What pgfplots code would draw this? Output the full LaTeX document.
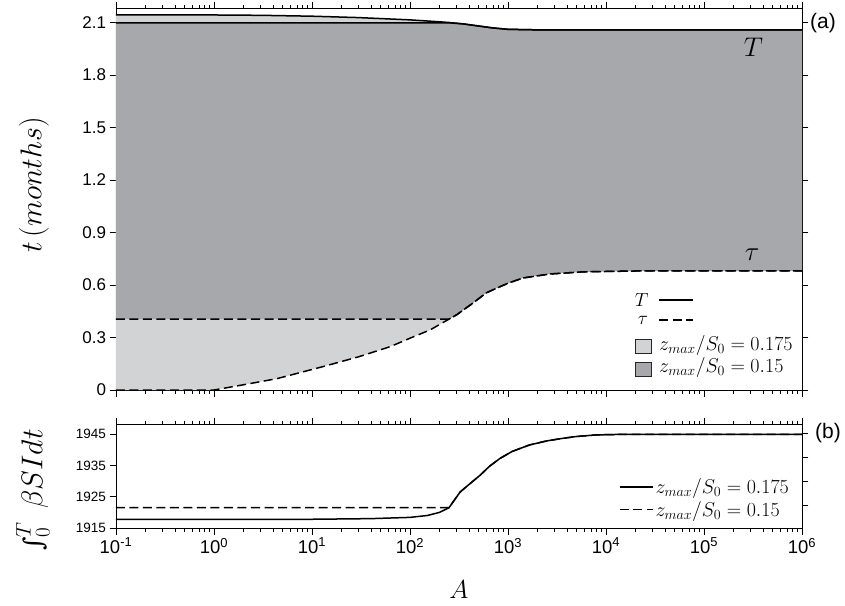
\RequirePackage{fix-cm}
\documentclass[border=0pt]{standalone}
\usepackage[no-math]{fontspec}
\setmainfont{Liberation Sans}
\newfontfamily\intfont{DejaVu Serif}
\usepackage{pgfplots}
\pgfplotsset{compat=1.18}
\usepackage{pgfplotstable}

\definecolor{fillA}{RGB}{210,211,213}
\definecolor{fillB}{RGB}{167,168,172}

\newcommand{\fa}{\fontsize{17}{20}\selectfont}
\newcommand{\fb}{\fontsize{13.5}{16}\selectfont}
\newcommand{\fx}{\fontsize{18.5}{21}\selectfont}
\newcommand{\dec}[1]{{\fx 10\textsuperscript{#1}}}

% ---------- panel (a): switching times ----------
\pgfplotstableread{
A t
0.1 2.144
1 2.143
3 2.141
10 2.136
30 2.128
100 2.115
200 2.104
250 2.100
350 2.092
500 2.080
700 2.069
1000 2.061
2000 2.058
1000000 2.058
}\TupA
\pgfplotstableread{
A t
0.1 2.098
250 2.098
350 2.092
500 2.080
700 2.069
1000 2.061
2000 2.058
1000000 2.058
}\TupB
\pgfplotstableread{
A t
0.1 0
1 0
2 0.03
4.4 0.065
13 0.134
30 0.19
63 0.248
100 0.296
160 0.343
250 0.405
300 0.43
440 0.497
600 0.555
773 0.583
1000 0.610
1420 0.640
2690 0.663
5820 0.675
20000 0.680
1000000 0.680
}\TauA
\pgfplotstableread{
A t
0.1 0.405
250 0.405
300 0.43
440 0.497
600 0.555
773 0.583
1000 0.610
1420 0.640
2690 0.663
5820 0.675
20000 0.680
1000000 0.680
}\TauB
% shaded bands: T curve forward, tau curve back
\pgfplotstableread{
A t
0.1 2.144
1 2.143
3 2.141
10 2.136
30 2.128
100 2.115
200 2.104
250 2.100
250 0.405
160 0.343
100 0.296
63 0.248
30 0.19
13 0.134
4.4 0.065
2 0.03
1 0
0.1 0
}\BandA
\pgfplotstableread{
A t
0.1 2.098
250 2.098
350 2.092
500 2.080
700 2.069
1000 2.061
2000 2.058
1000000 2.058
1000000 0.680
20000 0.680
5820 0.675
2690 0.663
1420 0.640
1000 0.610
773 0.583
600 0.555
440 0.497
300 0.43
250 0.405
0.1 0.405
}\BandB

% ---------- panel (b): integral ----------
\pgfplotstableread{
A v
0.1 1917.8
10 1917.8
40 1918.0
100 1918.4
150 1919.0
200 1920.0
250 1921.5
324 1926.5
420 1929.5
515 1931.8
650 1934.8
830 1937.3
1100 1939.5
1660 1941.6
2500 1942.9
3600 1943.7
5000 1944.3
7900 1944.8
15000 1945.0
1000000 1945.0
}\IntA
\pgfplotstableread{
A v
0.1 1921.5
250 1921.5
324 1926.5
420 1929.5
515 1931.8
650 1934.8
830 1937.3
1100 1939.5
1660 1941.6
2500 1942.9
3600 1943.7
5000 1944.3
7900 1944.8
15000 1945.0
1000000 1945.0
}\IntB

\tikzset{
  solidc/.style={black, line width=1.5pt},
  dashc/.style={black, line width=1.5pt, dash pattern=on 9pt off 4.5pt},
}

\begin{document}
\begin{tikzpicture}[x=1pt,y=1pt]
\useasboundingbox (-116,-215) rectangle (729,390);

\begin{axis}[
  scale only axis, width=686pt, height=381.5pt,
  at={(0pt,0pt)}, anchor=south west,
  xmode=log, xmin=0.1, xmax=1e6,
  xtick={0.1,1,10,100,1000,10000,100000,1000000},
  minor xtick={0.2,0.3,0.4,0.5,0.6,0.7,0.8,0.9,2,3,4,5,6,7,8,9,20,30,40,50,60,70,80,90,200,300,400,500,600,700,800,900,2000,3000,4000,5000,6000,7000,8000,9000,20000,30000,40000,50000,60000,70000,80000,90000,200000,300000,400000,500000,600000,700000,800000,900000},
  ymin=0, ymax=2.18,
  tick align=outside,
  major tick length=6.5pt, minor tick length=3.5pt,
  tick style={black, line width=0.6pt},
  axis line style={line width=0.8pt},
  xticklabels={}, xtick pos=both, ytick pos=both,
  ytick={0,0.3,0.6,0.9,1.2,1.5,1.8,2.1},
  yticklabels={{\fa 0},{\fa 0.3},{\fa 0.6},{\fa 0.9},{\fa 1.2},{\fa 1.5},{\fa 1.8},{\fa 2.1}},
]
\addplot[fill=fillA, draw=none] table[x=A, y=t] {\BandA};
\addplot[fill=fillB, draw=none] table[x=A, y=t] {\BandB};

\addplot[solidc] table[x=A, y=t] {\TupA};
\addplot[solidc] table[x=A, y=t] {\TupB};
\addplot[dashc] table[x=A, y=t] {\TauA};
\addplot[dashc] table[x=A, y=t] {\TauB};

\node[font=\fontsize{27}{30}\selectfont] at (axis cs:3.2e5,1.958) {$T$};
\node[font=\fontsize{27}{30}\selectfont] at (axis cs:3.1e5,0.772) {$\tau$};
\end{axis}

% axis title of panel (a)
\node[rotate=90, anchor=center, inner sep=0pt, font=\fontsize{30}{34}\selectfont] at (-82,205) {$t\,(months)$};

% key of panel (a)
\node[font=\fontsize{19}{22}\selectfont] at (525.7,90) {$T$};
\draw[solidc] (543,90) -- (577,90);
\node[font=\fontsize{19}{22}\selectfont] at (527,70) {$\tau$};
\draw[dashc] (543,70) -- (577,70);
\filldraw[fill=fillA, draw=black!85, line width=0.8pt] (519,37) rectangle (535,51);
\filldraw[fill=fillB, draw=black!85, line width=0.8pt] (519,14) rectangle (535,28);
\node[anchor=west, inner sep=0pt, font=\fontsize{20}{22}\selectfont] at (543,44.3) {$z_{max}/S_0 = 0.175$};
\node[anchor=west, inner sep=0pt, font=\fontsize{20}{22}\selectfont] at (543,22.3) {$z_{max}/S_0 = 0.15$};
\node[anchor=west, inner sep=0pt, font=\fontsize{21}{24}\selectfont] at (694,367) {(a)};

\begin{axis}[
  scale only axis, width=686pt, height=104pt,
  at={(0pt,-34pt)}, anchor=north west,
  xmode=log, xmin=0.1, xmax=1e6,
  xtick={0.1,1,10,100,1000,10000,100000,1000000},
  minor xtick={0.2,0.3,0.4,0.5,0.6,0.7,0.8,0.9,2,3,4,5,6,7,8,9,20,30,40,50,60,70,80,90,200,300,400,500,600,700,800,900,2000,3000,4000,5000,6000,7000,8000,9000,20000,30000,40000,50000,60000,70000,80000,90000,200000,300000,400000,500000,600000,700000,800000,900000},
  ymin=1915, ymax=1948.3,
  tick align=outside,
  major tick length=6.5pt, minor tick length=3.5pt,
  tick style={black, line width=0.6pt},
  axis line style={line width=0.8pt},
  xtick pos=both, ytick pos=left,
  xticklabels={\dec{-1},\dec{0},\dec{1},\dec{2},\dec{3},\dec{4},\dec{5},\dec{6}},
  ytick={1915,1925,1935,1945},
  yticklabels={{\fb 1915},{\fb 1925},{\fb 1935},{\fb 1945}},
  xlabel={\fontsize{26}{30}\selectfont $A$},
  xlabel style={at={(axis description cs:0.5,0)}, anchor=center, yshift=-62pt},
  legend style={draw=none, fill=none, inner sep=0pt, row sep=2pt,
    at={(axis description cs:0.733,0.288)}, anchor=west,
    font=\fontsize{20}{22}\selectfont},
  legend cell align=left,
  legend image code/.code={\draw[#1] (0pt,0pt) -- (33pt,0pt);},
]
\addplot[solidc] table[x=A, y=v] {\IntA};
\addlegendentry{\fontsize{20}{22}\selectfont $z_{max}/S_0 = 0.175$}
\addplot[dashc] table[x=A, y=v] {\IntB};
\addlegendentry{\fontsize{20}{22}\selectfont $z_{max}/S_0 = 0.15$}
\end{axis}

% right-hand scale of panel (b)
\begin{axis}[
  scale only axis, width=686pt, height=104pt,
  at={(0pt,-34pt)}, anchor=north west,
  xmode=log, xmin=0.1, xmax=1e6,
  ymin=1915, ymax=1948.3,
  tick align=outside, major tick length=6.5pt,
  tick style={black, line width=0.6pt},
  axis line style={line width=0.8pt},
  axis x line=none, axis y line*=right,
  ytick={1922.2,1929.9,1937.6,1945.3}, yticklabels={},
]
\addplot[draw=none] coordinates {(1,1930)};
\end{axis}
\node[anchor=west, inner sep=0pt, font=\fontsize{21}{24}\selectfont] at (699,-43) {(b)};

% axis title of panel (b)
\node[rotate=90, anchor=center, inner sep=0pt, font=\fontsize{30}{34}\selectfont] at (-83,-100)
  {$\mathop{\hbox{\intfont\itshape\fontsize{26}{30}\selectfont ∫}}\nolimits_0^T\;\beta SIdt$};

\end{tikzpicture}
\end{document}
